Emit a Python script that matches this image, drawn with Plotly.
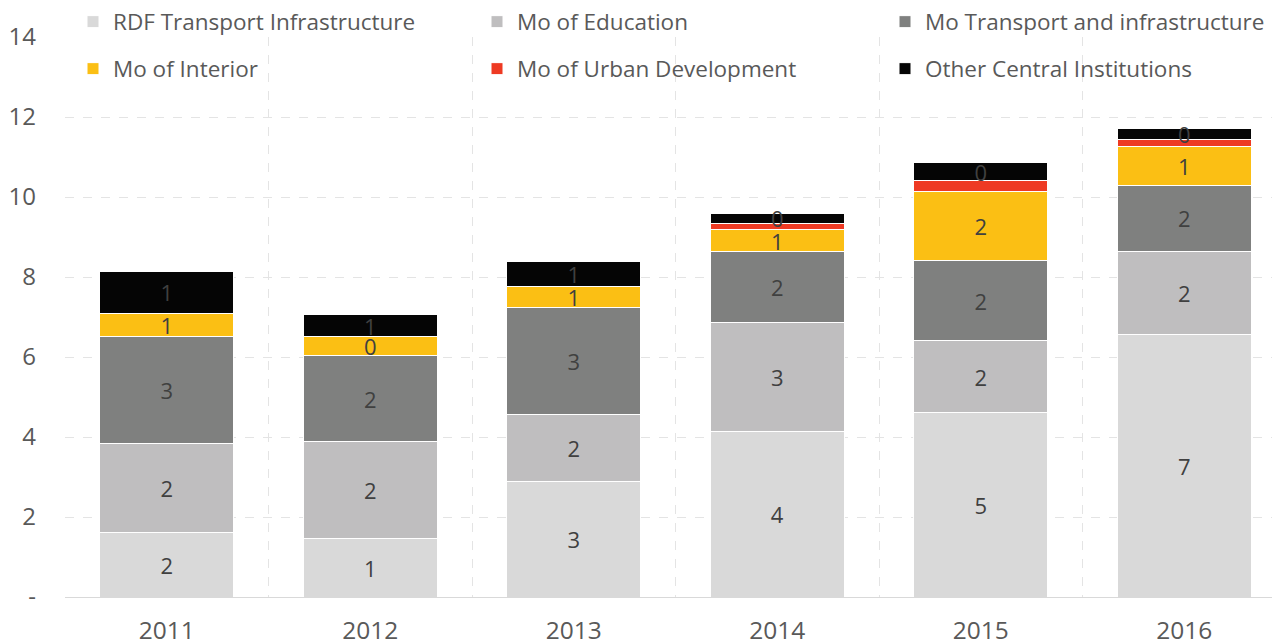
import plotly.graph_objects as go

years = ["2011", "2012", "2013", "2014", "2015", "2016"]
rdf_transport = [1.62, 1.47, 2.89, 4.14, 4.61, 6.56]
mo_education = [2.22, 2.42, 1.67, 2.72, 1.80, 2.09]
mo_transport = [2.67, 2.14, 2.69, 1.77, 2.00, 1.65]
mo_interior = [0.57, 0.48, 0.52, 0.55, 1.72, 0.97]
mo_urban = [0.0, 0.0, 0.0, 0.17, 0.28, 0.18]
other_central = [1.07, 0.55, 0.62, 0.25, 0.45, 0.27]

series_names = ["RDF Transport Infrastructure", "Mo of Education", "Mo Transport and infrastructure",
                "Mo of Interior", "Mo of Urban Development", "Other Central Institutions"]
series_values = [rdf_transport, mo_education, mo_transport, mo_interior, mo_urban, other_central]
series_colors = ["#d9d9d9", "#bfbebf", "#7f807f", "#fbbf14", "#ee3a23", "#050505"]
show_labels = [True, True, True, True, False, True]

y_tickvals = [0, 2, 4, 6, 8, 10, 12, 14]
y_ticktext = ["-", "2", "4", "6", "8", "10", "12", "14"]

FONT = "Open Sans"
W, H = 1280, 644
# legend slot positions (container pixels): 3 columns x 2 rows
legend_x_px = [65, 469, 877, 65, 469, 877]
legend_y_px = [14, 14, 14, 61, 61, 61]

fig = go.Figure()
legend_layout = {}
for i, (name, vals, col, lab) in enumerate(zip(series_names, series_values, series_colors, show_labels)):
    txt = [(f"{round(v)}" if (lab and v > 0) else "") for v in vals]
    lname = "legend" if i == 0 else f"legend{i + 1}"
    fig.add_trace(go.Bar(
        x=years, y=vals, name=name,
        marker=dict(color=col, line=dict(color="white", width=1)),
        text=txt, textposition="inside", insidetextanchor="middle", textangle=0,
        textfont=dict(family=FONT, size=22, color="#404040"),
        constraintext="none",
        legend=lname, showlegend=True,
        hoverinfo="skip",
    ))
    legend_layout[lname] = dict(
        xref="container", yref="container",
        x=legend_x_px[i] / W, y=1 - legend_y_px[i] / H,
        xanchor="left", yanchor="middle", orientation="h",
        font=dict(family=FONT, size=22.5, color="#595959"),
        bgcolor="rgba(255,255,255,0)", itemclick=False,
    )

fig.update_layout(
    width=W, height=H, showlegend=True,
    barmode="stack", bargap=0.34,
    plot_bgcolor="white", paper_bgcolor="white",
    margin=dict(l=57, r=2, t=29, b=55, autoexpand=False),
    uniformtext=dict(minsize=22, mode="show"),
    xaxis=dict(type="category", range=[-0.5, 5.5], showgrid=True, tickson="boundaries",
               gridcolor="#e4e4e4", griddash="dash", gridwidth=1,
               showline=True, linecolor="#d9d9d9", linewidth=1, ticks="",
               ticklabelstandoff=12,
               tickfont=dict(family=FONT, size=24.5, color="#595959")),
    yaxis=dict(range=[0, 14], tickvals=y_tickvals, ticktext=y_ticktext,
               showgrid=True, gridcolor="#e4e4e4", griddash="dash", gridwidth=1,
               zeroline=False, ticks="", ticklabelstandoff=28,
               tickfont=dict(family=FONT, size=24, color="#595959")),
    **legend_layout,
)

fig.write_html("out.html")
